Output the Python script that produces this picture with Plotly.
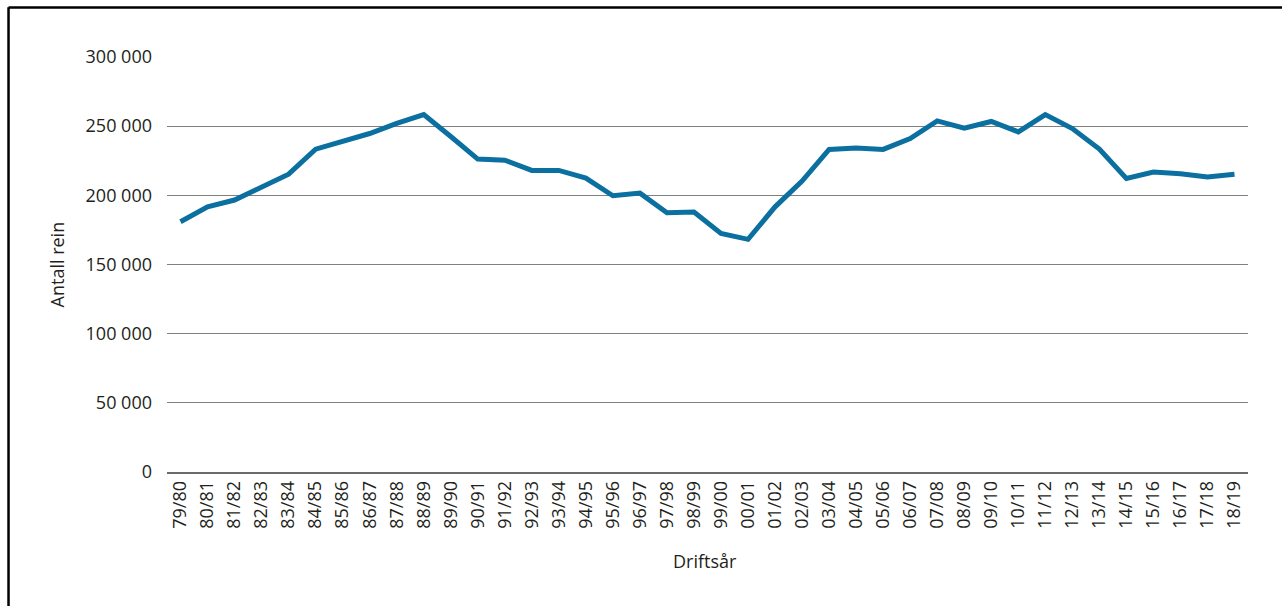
import plotly.graph_objects as go

seasons = ["79/80", "80/81", "81/82", "82/83", "83/84", "84/85", "85/86", "86/87",
           "87/88", "88/89", "89/90", "90/91", "91/92", "92/93", "93/94", "94/95",
           "95/96", "96/97", "97/98", "98/99", "99/00", "00/01", "01/02", "02/03",
           "03/04", "04/05", "05/06", "06/07", "07/08", "08/09", "09/10", "10/11",
           "11/12", "12/13", "13/14", "14/15", "15/16", "16/17", "17/18", "18/19"]
reindeer = [180900, 191700, 196600, 206000, 215300, 233400, 239400, 244700,
            252000, 258400, 242500, 226200, 225400, 218000, 218000, 212500,
            199700, 201600, 187400, 187900, 172500, 168200, 191700, 210300,
            233200, 234300, 233200, 241100, 253800, 248500, 253400, 245900,
            258400, 248300, 233400, 212200, 216800, 215600, 213200, 215300]

y_ticks = [0, 50000, 100000, 150000, 200000, 250000, 300000]
y_tick_text = ["0", "50 000", "100 000", "150 000", "200 000", "250 000", "300 000"]

font_family = "Open Sans"
text_color = "#231f20"

fig = go.Figure()
fig.add_trace(go.Scatter(
    x=seasons, y=reindeer, mode="lines",
    line=dict(color="#0b6fa0", width=5),
    hoverinfo="x+y",
))

fig.update_layout(
    width=1282, height=606,
    margin=dict(l=167, r=34, t=57, b=134),
    paper_bgcolor="white", plot_bgcolor="white",
    showlegend=False,
    font=dict(family=font_family, size=18, color=text_color),
    xaxis=dict(
        type="category", range=[-0.5, len(seasons) - 0.5],
        tickangle=-90, showgrid=False, ticks="",
        showline=True, linecolor="#6a6a6a", linewidth=1.5,
        tickfont=dict(family=font_family, size=18, color=text_color),
        zeroline=False,
    ),
    yaxis=dict(
        range=[0, 300000], tickvals=y_ticks, ticktext=y_tick_text,
        showgrid=True, gridcolor="#7f7f7f", gridwidth=1.4,
        zeroline=False, showline=False, ticks="",
        ticklabelstandoff=14,
        tickfont=dict(family=font_family, size=18, color=text_color),
    ),
    annotations=[
        dict(text="Antall rein", xref="paper", yref="paper", x=-0.1018, y=0.5,
             xanchor="center", yanchor="middle", textangle=-90, showarrow=False,
             font=dict(family=font_family, size=18, color=text_color)),
        dict(text="Driftsår", xref="paper", yref="paper", x=0.498, y=-0.2155,
             xanchor="center", yanchor="middle", showarrow=False,
             font=dict(family=font_family, size=18, color=text_color)),
    ],
    shapes=[
        dict(type="line", xref="paper", yref="paper",
             x0=-0.1466, x1=-0.1466, y0=-0.33, y1=1.12,
             line=dict(color="black", width=2.5)),
        dict(type="line", xref="paper", yref="paper",
             x0=-0.1466, x1=1.032, y0=1.1195, y1=1.1195,
             line=dict(color="black", width=2.5)),
    ],
)

fig.write_html(
    "out.html",
    config={"displayModeBar": False},
    post_script=("document.documentElement.style.overflow='hidden';"
                 "document.body.style.margin='0';document.body.style.overflow='hidden';"),
)
